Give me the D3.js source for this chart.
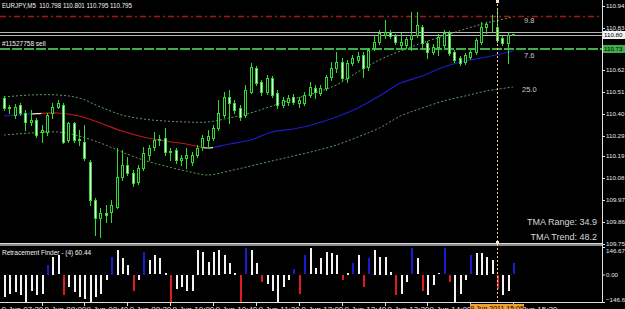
<!DOCTYPE html>
<html lang="en">
<head>
<meta charset="utf-8">
<title>EURJPY M5 - TMA bands and Retracement Finder</title>
<style>
    body { margin: 0; background: #000; overflow: hidden; }
    svg { display: block; font-family: "Liberation Sans", Arial, sans-serif; }
</style>
</head>
<body>
<script src="https://d3js.org/d3.v7.min.js"></script>
<script>
// ---- candles (EURJPY M5), index 0 = left-most bar
var candleOpen = [110.48,110.43,110.395,110.445,110.405,110.36,110.37,110.31,110.31,110.405,
    110.435,110.445,110.27,110.355,110.27,110.26,110.16,109.97,109.88,109.905,
    109.91,109.935,110.085,110.145,110.105,110.06,110.13,110.195,110.235,110.27,
    110.28,110.21,110.22,110.17,110.18,110.16,110.195,110.235,110.27,110.28,
    110.33,110.395,110.485,110.455,110.43,110.395,110.51,110.63,110.56,110.51,
    110.58,110.505,110.445,110.46,110.485,110.455,110.455,110.495,110.53,110.505,
    110.53,110.585,110.63,110.66,110.58,110.655,110.67,110.695,110.635,110.73,
    110.76,110.795,110.81,110.79,110.745,110.745,110.775,110.795,110.835,110.755,
    110.71,110.735,110.745,110.805,110.71,110.68,110.66,110.685,110.71,110.76,
    110.835,110.845,110.835,110.78,110.755,110.798];
var candleHigh = [110.49,110.445,110.45,110.455,110.42,110.42,110.38,110.345,110.405,110.455,
    110.47,110.455,110.36,110.36,110.32,110.345,110.17,109.98,109.93,109.945,
    109.97,110.23,110.22,110.185,110.12,110.145,110.235,110.245,110.31,110.295,
    110.33,110.23,110.23,110.195,110.23,110.21,110.245,110.295,110.32,110.345,
    110.47,110.51,110.52,110.47,110.445,110.545,110.655,110.64,110.57,110.595,
    110.59,110.52,110.485,110.495,110.5,110.485,110.51,110.56,110.545,110.545,
    110.595,110.66,110.71,110.68,110.67,110.695,110.71,110.71,110.73,110.795,
    110.82,110.87,110.82,110.8,110.805,110.785,110.91,110.91,110.845,110.765,
    110.75,110.8,110.82,110.815,110.72,110.69,110.705,110.72,110.78,110.86,
    110.86,110.895,110.92,110.79,110.805,110.801];
var candleLow = [110.42,110.405,110.38,110.395,110.32,110.345,110.285,110.26,110.295,110.38,
    110.43,110.255,110.26,110.26,110.245,110.17,109.945,109.795,109.785,109.86,
    109.86,109.93,110.07,110.095,110.04,110.05,110.12,110.17,110.22,110.245,
    110.195,110.17,110.155,110.145,110.13,110.145,110.185,110.22,110.23,110.27,
    110.32,110.385,110.355,110.405,110.37,110.385,110.505,110.545,110.495,110.5,
    110.485,110.43,110.435,110.445,110.45,110.435,110.445,110.485,110.48,110.495,
    110.52,110.57,110.61,110.57,110.56,110.645,110.66,110.585,110.62,110.72,
    110.75,110.78,110.78,110.75,110.73,110.73,110.72,110.785,110.73,110.68,
    110.7,110.695,110.735,110.695,110.66,110.645,110.65,110.675,110.7,110.75,
    110.805,110.81,110.76,110.745,110.655,110.795];
var candleClose = [110.43,110.435,110.435,110.405,110.36,110.37,110.295,110.32,110.395,110.435,
    110.455,110.26,110.355,110.27,110.275,110.18,109.97,109.88,109.905,109.895,
    109.945,110.085,110.145,110.105,110.055,110.13,110.205,110.23,110.27,110.275,
    110.21,110.215,110.17,110.18,110.195,110.195,110.23,110.28,110.29,110.33,
    110.405,110.485,110.455,110.42,110.385,110.52,110.635,110.555,110.51,110.58,
    110.495,110.445,110.47,110.48,110.46,110.47,110.495,110.535,110.51,110.53,
    110.585,110.63,110.66,110.58,110.655,110.68,110.69,110.63,110.72,110.76,
    110.805,110.81,110.79,110.76,110.76,110.775,110.795,110.845,110.755,110.71,
    110.735,110.785,110.805,110.705,110.67,110.655,110.695,110.71,110.77,110.835,
    110.85,110.846,110.77,110.755,110.795,110.795];

// ---- TMA bands, read at these bar indices
var tmaIdx    = [0,5,10,14,18,22,26,30,34,38,42,46,50,54,58,62,66,70,74,78,82,86,90,95];
var tmaMid    = [110.39,110.40,110.405,110.39,110.355,110.315,110.285,110.265,110.25,110.23,110.25,110.27,
                 110.31,110.325,110.35,110.385,110.43,110.49,110.555,110.59,110.635,110.665,110.685,110.715];
var tmaUpper  = [110.485,110.495,110.495,110.48,110.435,110.395,110.375,110.365,110.36,110.36,110.38,110.405,
                 110.44,110.475,110.505,110.545,110.61,110.67,110.715,110.755,110.79,110.825,110.855,110.885];
var tmaLower  = [110.295,110.305,110.31,110.29,110.255,110.21,110.17,110.14,110.115,110.095,110.115,110.14,
                 110.165,110.19,110.215,110.245,110.285,110.33,110.39,110.43,110.465,110.49,110.515,110.535];
// slope state of the middle line: bar ranges
var trendFrom = [0, 5, 7, 37, 39];
var trendTo   = [5, 7, 37, 39, 95];
var trendDir  = ["up", "turn", "down", "turn", "up"];
var bandText  = ["9.8", "7.6", "25.0"];

// ---- price levels
var stopLevel  = 110.89;
var askLevel   = 110.812;
var bidLevel   = 110.795;
var orderLevel = 110.727;

// ---- Retracement Finder histogram
var rfValues = [-118,-100,-92,-109,-145,-83,-109,-100,51,95,
    104,-109,-65,-92,-118,-127,-145,-118,-100,-26,
    95,131,86,51,-83,-29,122,77,104,86,
    10,-145,-74,-65,-83,-83,131,122,68,122,
    131,104,60,10,-145,140,131,60,-38,-47,
    -83,-145,-65,-26,28,-100,104,140,33,86,
    122,113,104,-29,10,60,104,-65,86,131,
    95,95,15,-109,-100,-38,140,86,-83,-109,
    -56,6,140,-38,-145,-100,-26,104,116,116,
    95,77,-74,-109,-83,60];
var rfBlue = [8,20,26,45,54,56,65,68,76,82,87,95];
var rfRed  = [11,24,31,44,48,55,63,67,73,78,83,92];

// ---- axes
var priceTicks = [110.94,110.83,110.72,110.62,110.51,110.40,110.29,110.19,110.08,109.97,109.86,109.75];
var subTicks = [146.67, 0, -146.67];
var timeTickIdx = [-1,7,15,23,31,39,47,55,63,71,79,87,95];
var timeLabels = ["9 Jun 07:20","9 Jun 08:00","9 Jun 08:40","9 Jun 09:20","9 Jun 10:00","9 Jun 10:40",
    "9 Jun 11:20","9 Jun 12:00","9 Jun 12:40","9 Jun 13:20","9 Jun 14:00","9 Jun 14:40","9 Jun 15:20"];
var cursorIdx = 92;
var cursorLabel = "9 Jun 2011 15:05";

var w = 625, h = 309;
var plotRight = 602, mainBottom = 243;
var axisFont = 6.2;

var x = d3.scaleLinear().domain([0, 95]).range([4, 513.2]);
var y = d3.scaleLinear().domain([109.75, 110.94]).range([244, 6]);
var ySub = d3.scaleLinear().domain([-146.67, 146.67]).range([302, 247]);
function px(i) { return Math.round(x(i)); }
function py(v) { return Math.round(y(v)); }

var svg = d3.select("body").append("svg")
    .attr("width", w)
    .attr("height", h);
svg.append("rect").attr("width", w).attr("height", h).attr("fill", "#000");

var defs = svg.append("defs");
defs.append("clipPath").attr("id", "mainClip")
    .append("rect").attr("x", 0).attr("y", 0).attr("width", plotRight).attr("height", mainBottom);

var dirColor = { up: "#1c1cc8", turn: "#f0f0d0", down: "#c01818" };
trendFrom.forEach(function(f, k) {
    defs.append("clipPath").attr("id", "trend" + k)
        .append("rect")
        .attr("x", x(f)).attr("y", 0)
        .attr("width", x(trendTo[k]) - x(f) + (k == trendFrom.length - 1 ? 2 : 0))
        .attr("height", mainBottom);
});

var main = svg.append("g").attr("clip-path", "url(#mainClip)");

// horizontal levels
main.append("line")
    .attr("x1", 0).attr("x2", plotRight)
    .attr("y1", py(stopLevel) + 0.5).attr("y2", py(stopLevel) + 0.5)
    .attr("stroke", "#a01818").attr("stroke-width", 1.5)
    .attr("stroke-dasharray", "6,3,2,3");
[askLevel, bidLevel].forEach(function(v) {
    main.append("line")
        .attr("x1", 0).attr("x2", plotRight)
        .attr("y1", py(v) + 0.5).attr("y2", py(v) + 0.5)
        .attr("stroke", "#b8b8b8").attr("stroke-width", 1);
});
main.append("line")
    .attr("x1", 0).attr("x2", plotRight)
    .attr("y1", py(orderLevel)).attr("y2", py(orderLevel))
    .attr("stroke", "#3fae4a").attr("stroke-width", 2)
    .attr("stroke-dasharray", "10,2");

// TMA bands
var bandLine = function(vals) {
    return d3.line()
        .x(function(d, k) { return x(tmaIdx[k]); })
        .y(function(d) { return y(d); })
        .curve(d3.curveCatmullRom)(vals);
};
[tmaUpper, tmaLower].forEach(function(vals) {
    main.append("path")
        .attr("d", bandLine(vals))
        .attr("fill", "none")
        .attr("stroke", "#5e9e5e")
        .attr("stroke-width", 1)
        .attr("stroke-dasharray", "2,2");
});
trendFrom.forEach(function(f, k) {
    main.append("path")
        .attr("d", bandLine(tmaMid))
        .attr("clip-path", "url(#trend" + k + ")")
        .attr("fill", "none")
        .attr("stroke", dirColor[trendDir[k]])
        .attr("stroke-width", 1.2);
});

// candles
var idx = d3.range(candleOpen.length);
main.selectAll(".wick").data(idx).join("line")
    .attr("class", "wick")
    .attr("x1", function(i) { return px(i) + 0.5; })
    .attr("x2", function(i) { return px(i) + 0.5; })
    .attr("y1", function(i) { return py(candleHigh[i]); })
    .attr("y2", function(i) { return py(candleLow[i]) + 1; })
    .attr("stroke", "#36d836");
main.selectAll(".body").data(idx).join("rect")
    .attr("class", "body")
    .attr("x", function(i) { return px(i) - 0.5; })
    .attr("width", 2)
    .attr("y", function(i) { return py(Math.max(candleOpen[i], candleClose[i])) + 0.5; })
    .attr("height", function(i) {
        return Math.max(0, py(Math.min(candleOpen[i], candleClose[i])) - py(Math.max(candleOpen[i], candleClose[i])));
    })
    .attr("fill", function(i) { return candleClose[i] >= candleOpen[i] ? "#000" : "#eaffea"; })
    .attr("stroke", "#36d836")
    .attr("stroke-width", 1);

// band labels at the right end
[tmaUpper, tmaMid, tmaLower].forEach(function(vals, k) {
    svg.append("text")
        .attr("x", k == 2 ? 522 : 524)
        .attr("y", y(vals[vals.length - 1]) + [6, 7, 5][k])
        .attr("font-size", 7.5)
        .attr("fill", "#c8c8c8")
        .text(bandText[k]);
});

// panel separator and sub window
svg.append("rect").attr("x", 0).attr("y", 243).attr("width", plotRight + 1).attr("height", 3).attr("fill", "#8a8a8a");
svg.append("line").attr("x1", 0).attr("x2", plotRight + 1).attr("y1", 243.5).attr("y2", 243.5).attr("stroke", "#d8d8d8");

var blueSet = new Set(rfBlue), redSet = new Set(rfRed);
svg.append("g").selectAll("rect").data(idx).join("rect")
    .attr("x", function(i) { return px(i); })
    .attr("width", 2)
    .attr("y", function(i) { return Math.round(Math.min(ySub(rfValues[i]), ySub(0))); })
    .attr("height", function(i) { return Math.round(Math.abs(ySub(rfValues[i]) - ySub(0))); })
    .attr("fill", function(i) { return blueSet.has(i) ? "#1a1ad0" : (redSet.has(i) ? "#e01c1c" : "#f4f4f4"); });

// cursor line
svg.append("line")
    .attr("x1", px(cursorIdx) + 0.5).attr("x2", px(cursorIdx) + 0.5)
    .attr("y1", 0).attr("y2", 303)
    .attr("stroke", "#f2c898").attr("stroke-dasharray", "2,2");
[0, 241].forEach(function(yy) {
    svg.append("rect").attr("x", px(cursorIdx) - 1).attr("y", yy).attr("width", 3).attr("height", 3).attr("fill", "#f4ead8");
});

// right axis
svg.append("line").attr("x1", plotRight + 0.5).attr("x2", plotRight + 0.5).attr("y1", 0).attr("y2", 303).attr("stroke", "#e0e0e0");
var axisG = svg.append("g")
    .attr("transform", "translate(" + (plotRight + 1) + ",0)")
    .call(d3.axisRight(y).tickValues(priceTicks).tickSize(2).tickFormat(d3.format(".2f")));
axisG.select(".domain").remove();
axisG.selectAll("line").attr("stroke", "#e0e0e0");
axisG.selectAll("text").attr("x", 3).attr("font-size", axisFont).attr("font-family", "Liberation Sans, Arial, sans-serif").attr("fill", "#e8e8e8");

// level boxes on the axis
svg.append("text").attr("x", 604).attr("y", py(askLevel) + 1.5).attr("font-size", axisFont).attr("fill", "#d0d0d0").text(askLevel.toFixed(2));
[[bidLevel, "#f4f4f4"], [orderLevel, "#3fae4a"]].forEach(function(p) {
    var yy = py(p[0]);
    svg.append("rect").attr("x", plotRight + 1).attr("y", yy - 4).attr("width", w - plotRight).attr("height", 8).attr("fill", p[1]);
    svg.append("text").attr("x", 604).attr("y", yy + 2.2).attr("font-size", axisFont).attr("fill", "#000").text(p[0].toFixed(2));
});

// sub axis
var subG = svg.append("g")
    .attr("transform", "translate(" + (plotRight + 1) + ",0)")
    .call(d3.axisRight(ySub).tickValues(subTicks).tickSize(2).tickFormat(d3.format(".2f")));
subG.select(".domain").remove();
subG.selectAll("line").attr("stroke", "#e0e0e0");
subG.selectAll("text").attr("x", 3).attr("font-size", axisFont).attr("font-family", "Liberation Sans, Arial, sans-serif").attr("fill", "#e8e8e8")
    .attr("dy", function(d) { return d > 0 ? "0.95em" : (d < 0 ? "-0.1em" : "0.32em"); });

// bottom time axis
svg.append("line").attr("x1", 0).attr("x2", plotRight + 1).attr("y1", 302.5).attr("y2", 302.5).attr("stroke", "#e0e0e0");
timeTickIdx.forEach(function(ti, k) {
    var tx = px(ti) + 0.5;
    svg.append("line").attr("x1", tx).attr("x2", tx).attr("y1", 302).attr("y2", 306).attr("stroke", "#e0e0e0");
    svg.append("text").attr("x", tx + 2).attr("y", 312).attr("font-size", 8).attr("fill", "#e8e8e8").text(timeLabels[k]);
});
svg.append("rect").attr("x", px(cursorIdx) - 27).attr("y", 304).attr("width", 54).attr("height", 6).attr("fill", "#f0a030");
svg.append("text").attr("x", px(cursorIdx)).attr("y", 311).attr("text-anchor", "middle").attr("font-size", 7).attr("fill", "#000").text(cursorLabel);

// captions
svg.append("text").attr("x", 2).attr("y", 7.5).attr("font-size", 7)
    .attr("textLength", 130).attr("lengthAdjust", "spacingAndGlyphs")
    .attr("fill", "#f4f4f4").style("white-space", "pre")
    .text("EURJPY,M5  110.798 110.801 110.795 110.795");
svg.append("text").attr("x", 2).attr("y", 45.5).attr("font-size", 6.5).attr("fill", "#f4f4f4").text("#11527758 sell");
svg.append("text").attr("x", 2).attr("y", 255).attr("font-size", 6.5).attr("fill", "#f4f4f4").text("Retracement Finder - (4) 60.44");
svg.append("text").attr("x", 597).attr("y", 225).attr("text-anchor", "end").attr("font-size", 9).attr("fill", "#d8d8d8").text("TMA Range: 34.9");
svg.append("text").attr("x", 597).attr("y", 240).attr("text-anchor", "end").attr("font-size", 9).attr("fill", "#d8d8d8").text("TMA Trend: 48.2");
</script>
</body>
</html>
